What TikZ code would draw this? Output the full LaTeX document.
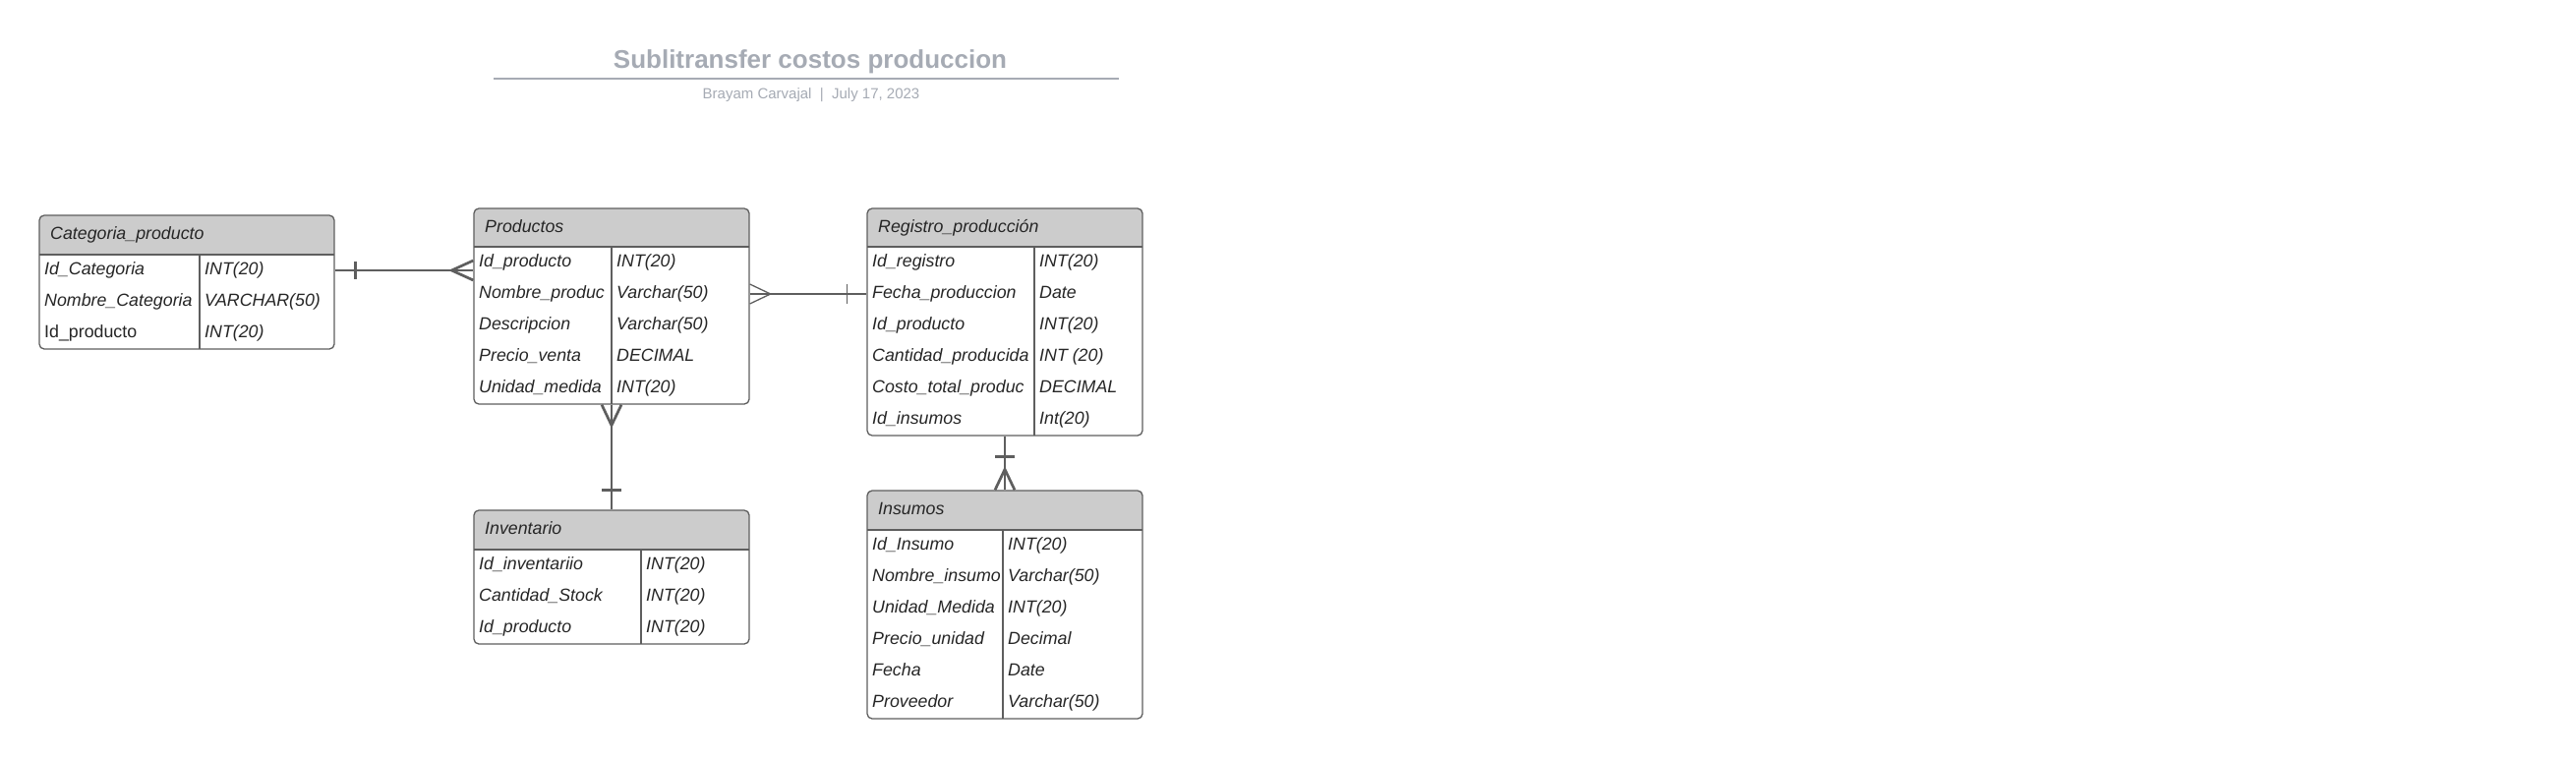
\documentclass[tikz,border=0pt]{standalone}
\usepackage{fontspec}
\setmainfont{Liberation Sans}
\usetikzlibrary{fit}
\definecolor{bordc}{HTML}{5E5E5E}
\definecolor{hdrc}{HTML}{CCCCCC}
\definecolor{txtc}{HTML}{262626}
\definecolor{titc}{HTML}{A6ABB4}
\tikzset{
  tblbox/.style={draw=bordc, line width=1.3pt, rounded corners=5pt, inner sep=0pt, fill=none},
  tblline/.style={draw=bordc, line width=1.3pt},
  fld/.style={anchor=base west, inner sep=0pt, text=txtc, font=\fontsize{17.8}{21}\selectfont\itshape},
  connk/.style={draw=bordc, line width=2.7pt},
  connt/.style={draw=bordc, line width=1.3pt},
}
% #1 name, #2 x1, #3 y1, #4 x2, #5 yh, #6 y2, #7 xdiv, #8 title
\newcommand{\ertable}[8]{%
  \begin{scope}
    \clip[rounded corners=5pt] (#2,#3) rectangle (#4,#6);
    \fill[hdrc] (#2,#3) rectangle (#4,#5);
  \end{scope}
  \draw[tblline] (#2,#5) -- (#4,#5) (#7,#5) -- (#7,#6);
  \node[tblbox, fit={(#2,#3) (#4,#6)}] (#1) {};
  \node[fld] (#1-title) at (#2+11,#3+24.5) {#8};
}
% #1 name, #2 x1, #3 xdiv, #4 yh, #5 row, #6 field, #7 type
\newcommand{\erfield}[7]{%
  \pgfmathsetmacro{\erbase}{#4+20.5+32*(#5-1)}%
  \node[fld] (#1-n#5) at (#2+5,\erbase) {#6};
  \node[fld] (#1-t#5) at (#3+5,\erbase) {#7};
}
\begin{document}
\begin{tikzpicture}[x=1pt,y=-1pt]
\useasboundingbox[fill=white] (0,0) rectangle (2620,771);

% title block
\node[anchor=base, inner sep=0pt, text=titc, font=\fontsize{26}{30}\selectfont\bfseries] (title) at (824,69) {Sublitransfer costos produccion};
\coordinate (rulel) at (502,80);
\coordinate (ruler) at (1138,80);
\draw[titc, line width=2pt] (rulel) -- (ruler);
\node[anchor=base, inner sep=0pt, text=titc, font=\fontsize{15}{18}\selectfont] (subtitle) at (825,100) {Brayam Carvajal~~|~~July 17, 2023};

% Categoria_producto
\ertable{cat}{40}{219}{340}{259}{355}{203}{Categoria\_producto}
\erfield{cat}{40}{203}{259}{1}{Id\_Categoria}{INT(20)}
\erfield{cat}{40}{203}{259}{2}{Nombre\_Categoria}{VARCHAR(50)}
\erfield{cat}{40}{203}{259}{3}{\upshape Id\_producto}{INT(20)}

% Productos
\ertable{prod}{482}{212}{762}{251}{411}{622}{Productos}
\erfield{prod}{482}{622}{251}{1}{Id\_producto}{INT(20)}
\erfield{prod}{482}{622}{251}{2}{Nombre\_produc}{Varchar(50)}
\erfield{prod}{482}{622}{251}{3}{Descripcion}{Varchar(50)}
\erfield{prod}{482}{622}{251}{4}{Precio\_venta}{DECIMAL}
\erfield{prod}{482}{622}{251}{5}{Unidad\_medida}{INT(20)}

% Registro_produccion
\ertable{reg}{882}{212}{1162}{251}{443}{1052}{Registro\_producción}
\erfield{reg}{882}{1052}{251}{1}{Id\_registro}{INT(20)}
\erfield{reg}{882}{1052}{251}{2}{Fecha\_produccion}{Date}
\erfield{reg}{882}{1052}{251}{3}{Id\_producto}{INT(20)}
\erfield{reg}{882}{1052}{251}{4}{Cantidad\_producida}{INT (20)}
\erfield{reg}{882}{1052}{251}{5}{Costo\_total\_produc}{DECIMAL}
\erfield{reg}{882}{1052}{251}{6}{Id\_insumos}{Int(20)}

% Inventario
\ertable{inv}{482}{519}{762}{559}{655}{652}{Inventario}
\erfield{inv}{482}{652}{559}{1}{Id\_inventariio}{INT(20)}
\erfield{inv}{482}{652}{559}{2}{Cantidad\_Stock}{INT(20)}
\erfield{inv}{482}{652}{559}{3}{Id\_producto}{INT(20)}

% Insumos
\ertable{ins}{882}{499}{1162}{539}{731}{1020}{Insumos}
\erfield{ins}{882}{1020}{539}{1}{Id\_Insumo}{INT(20)}
\erfield{ins}{882}{1020}{539}{2}{Nombre\_insumo}{Varchar(50)}
\erfield{ins}{882}{1020}{539}{3}{Unidad\_Medida}{INT(20)}
\erfield{ins}{882}{1020}{539}{4}{Precio\_unidad}{Decimal}
\erfield{ins}{882}{1020}{539}{5}{Fecha}{Date}
\erfield{ins}{882}{1020}{539}{6}{Proveedor}{Varchar(50)}

% connectors
\coordinate (r1) at (0,275);
\coordinate (r2) at (0,299);

% Categoria -- Productos (one to many)
\draw[connk] (cat.east |- r1) -- (prod.west |- r1);
\draw[connk] (cat.east |- r1) ++(21,-9) -- ++(0,18);
\draw[connk] (prod.west |- r1) ++(0,-10) -- ++(-22,10) -- ++(22,10);

% Productos -- Registro (many to one)
\draw[connt] (prod.east |- r2) -- (reg.west |- r2);
\draw[connt] (prod.east |- r2) ++(0,-10) -- ++(21,10) -- ++(-21,10);
\draw[connt] (reg.west |- r2) ++(-20,-10) -- ++(0,20);

% Productos -- Inventario
\draw[connk] (prod.south) -- (inv.north);
\draw[connk] (prod.south) ++(-10,0) -- ++(10,21) -- ++(10,-21);
\draw[connk] (inv.north) ++(-10,-20) -- ++(20,0);

% Registro -- Insumos
\draw[connk] (reg.south) -- (ins.north);
\draw[connk] (reg.south) ++(-10,21) -- ++(20,0);
\draw[connk] (ins.north) ++(-10,0) -- ++(10,-21) -- ++(10,21);
\end{tikzpicture}
\end{document}
